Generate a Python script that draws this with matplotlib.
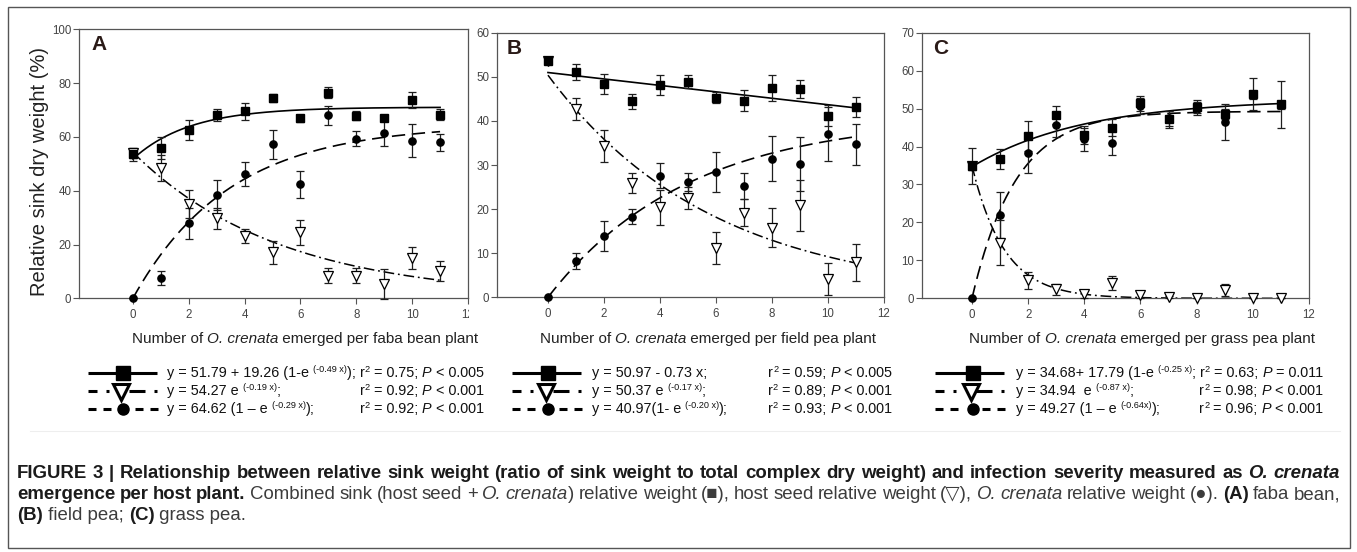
import numpy as np
import matplotlib
matplotlib.use('Agg')
import matplotlib.pyplot as plt
from matplotlib.patches import Rectangle

W, H = 1357, 552
plt.rcParams['font.family'] = ['Liberation Sans', 'DejaVu Sans']

# ---------------- data ----------------
x_emerged = list(range(12))

# Panel A - faba bean
a_sink = [53.5, 56.0, 62.6, 68.2, 69.5, 74.5, 66.9, 76.5, 67.9, 67.0, 73.6, 68.2]
a_sink_err = [2.4, 4.1, 3.7, 2.2, 3.2, 1.5, 1.4, 2.2, 1.8, 1.0, 3.0, 2.1]
a_seed = [54.0, 48.3, 35.1, 29.7, 23.2, 17.1, 24.5, 8.4, 8.4, 5.3, 14.9, 10.3]
a_seed_err = [2.0, 4.8, 5.2, 4.0, 2.5, 4.2, 4.5, 2.8, 2.8, 5.5, 4.0, 3.7]
a_oc = [0.0, 7.4, 27.9, 38.4, 46.2, 57.2, 42.4, 68.0, 59.4, 61.6, 58.6, 58.0]
a_oc_err = [0.0, 2.6, 5.7, 5.6, 4.4, 5.4, 5.0, 3.6, 2.9, 5.1, 6.1, 3.2]

# Panel B - field pea
b_sink = [53.6, 51.0, 48.4, 44.4, 48.1, 48.9, 45.3, 44.6, 47.5, 47.2, 41.2, 43.2]
b_sink_err = [0.7, 1.8, 2.3, 1.6, 2.3, 1.5, 1.2, 2.3, 3.0, 2.1, 2.3, 2.3]
b_seed = [53.6, 42.7, 34.3, 25.9, 20.4, 22.6, 11.1, 19.2, 15.8, 20.9, 4.2, 7.9]
b_seed_err = [0.5, 2.5, 3.6, 2.2, 3.9, 2.5, 3.6, 3.1, 4.5, 5.8, 3.6, 4.1]
b_oc = [0.0, 8.2, 14.0, 18.3, 27.6, 26.2, 28.4, 25.3, 31.4, 30.2, 37.0, 34.7]
b_oc_err = [0.0, 1.8, 3.4, 1.7, 2.8, 2.0, 4.6, 2.9, 5.1, 6.2, 6.2, 4.6]

# Panel C - grass pea
c_sink = [34.9, 36.7, 42.8, 48.3, 43.0, 45.0, 51.4, 47.2, 50.3, 48.6, 53.8, 51.1]
c_sink_err = [4.7, 2.7, 4.0, 2.4, 2.3, 2.2, 2.0, 2.2, 1.9, 1.4, 4.2, 6.1]
c_seed = [34.9, 14.7, 4.7, 2.4, 1.1, 4.0, 0.9, 0.4, 0.0, 2.2, 0.0, 0.0]
c_seed_err = [1.0, 6.0, 2.2, 1.5, 1.0, 1.9, 0.7, 0.3, 0.0, 1.5, 0.0, 0.0]
c_oc = [0.0, 21.9, 38.2, 45.8, 41.9, 41.0, 50.7, 47.4, 50.3, 46.4, 53.5, 51.0]
c_oc_err = [0.0, 6.0, 5.1, 3.2, 3.1, 3.2, 2.2, 2.0, 1.5, 4.7, 1.0, 1.0]

# fitted equations (parameters as printed in the legends)
a_fit_sink = [51.79, 19.26, 0.49]   # a + b(1-e^(-kx))
a_fit_seed = [54.27, 0.19]          # a e^(-kx)
a_fit_oc = [64.62, 0.29]            # a (1-e^(-kx))
b_fit_sink = [50.97, -0.73]         # a + b x
b_fit_seed = [50.37, 0.17]
b_fit_oc = [40.97, 0.20]
c_fit_sink = [34.68, 17.79, 0.25]
c_fit_seed = [34.94, 0.87]
c_fit_oc = [49.27, 0.64]

host_names = ["faba bean", "field pea", "grass pea"]
panel_letters = ["A", "B", "C"]
y_label = "Relative sink dry weight (%)"
x_ticks = [0, 2, 4, 6, 8, 10, 12]

# ---------------- figure ----------------
fig = plt.figure(figsize=(W / 100, H / 100), dpi=100)
fig.patch.set_facecolor('white')

def add_ax(l, r, t, b):
    return fig.add_axes([l / W, 1 - b / H, (r - l) / W, (b - t) / H])

overlay = fig.add_axes([0, 0, 1, 1], zorder=5)
overlay.set_xlim(0, W)
overlay.set_ylim(H, 0)
overlay.axis('off')
overlay.patch.set_alpha(0)

renderer = fig.canvas.get_renderer()

def textwidth(s, **kw):
    t1 = overlay.text(0, 0, s + '|', **kw)
    t2 = overlay.text(0, 0, '|', **kw)
    w = t1.get_window_extent(renderer).width - t2.get_window_extent(renderer).width
    t1.remove(); t2.remove()
    return w

def runs_width(runs):
    return sum(textwidth(s, **{k: v for k, v in kw.items() if k != 'dy'}) for s, kw in runs)

def draw_runs(x, y, runs):
    for s, kw in runs:
        kw = dict(kw)
        dy = kw.pop('dy', 0)
        overlay.text(x, y + dy, s, ha='left', va='baseline', **kw)
        x += textwidth(s, **kw)
    return x

panels = [
    dict(pos=(79, 468, 29.3, 298.3), xlim=(-1.93, 12), ylim=(0, 100), yt=np.arange(0, 101, 20),
         sink=a_sink, sink_err=a_sink_err, seed=a_seed, seed_err=a_seed_err, oc=a_oc, oc_err=a_oc_err,
         fsink=('exp', a_fit_sink), fseed=a_fit_seed, foc=a_fit_oc, letter=(91, 50), xlab_c=305),
    dict(pos=(497, 884, 32.7, 297.3), xlim=(-1.82, 12), ylim=(0, 60), yt=np.arange(0, 61, 10),
         sink=b_sink, sink_err=b_sink_err, seed=b_seed, seed_err=b_seed_err, oc=b_oc, oc_err=b_oc_err,
         fsink=('lin', b_fit_sink), fseed=b_fit_seed, foc=b_fit_oc, letter=(507, 54), xlab_c=708),
    dict(pos=(922, 1309, 32.7, 298.3), xlim=(-1.78, 12), ylim=(0, 70), yt=np.arange(0, 71, 10),
         sink=c_sink, sink_err=c_sink_err, seed=c_seed, seed_err=c_seed_err, oc=c_oc, oc_err=c_oc_err,
         fsink=('exp', c_fit_sink), fseed=c_fit_seed, foc=c_fit_oc, letter=(933, 54), xlab_c=1142),
]

xf = np.linspace(0, 11, 200)
ecol = '#1e1e1e'
axes = []
for i, p in enumerate(panels):
    ax = add_ax(*p['pos'])
    axes.append(ax)
    ax.set_xlim(*p['xlim'])
    ax.set_ylim(*p['ylim'])
    ax.set_xticks(x_ticks)
    ax.set_yticks(p['yt'])
    ax.tick_params(direction='out', length=4, width=0.8, color='#555555',
                   labelsize=8.3, labelcolor='#444444')
    ax.tick_params(axis='x', pad=4)
    ax.tick_params(axis='y', pad=1.5)
    for sp in ax.spines.values():
        sp.set_color('#555555')
        sp.set_linewidth(0.9)
    # fitted curves
    kind, fp = p['fsink']
    if kind == 'exp':
        ys = fp[0] + fp[1] * (1 - np.exp(-fp[2] * xf))
    else:
        ys = fp[0] + fp[1] * xf
    ax.plot(xf, ys, color='black', lw=1.2, zorder=2)
    ax.plot(xf, p['fseed'][0] * np.exp(-p['fseed'][1] * xf), color='black', lw=1.1,
            dashes=(7, 2.5, 1.2, 2.5), zorder=2)
    ax.plot(xf, p['foc'][0] * (1 - np.exp(-p['foc'][1] * xf)), color='black', lw=1.2,
            dashes=(8, 4), zorder=2)
    # error bars
    for vals, errs in [(p['seed'], p['seed_err']), (p['oc'], p['oc_err']), (p['sink'], p['sink_err'])]:
        ax.errorbar(x_emerged, vals, yerr=errs, fmt='none', ecolor=ecol, elinewidth=0.9,
                    capsize=3.2, capthick=0.9, zorder=3, clip_on=False)
    ax.plot(x_emerged, p['seed'], 'v', ms=6.5, mfc='white', mec='black', mew=0.9, zorder=4, clip_on=False)
    ax.plot(x_emerged, p['oc'], 'o', ms=5.2, color='black', zorder=5, clip_on=False)
    ax.plot(x_emerged, p['sink'], 's', ms=6, color='black', zorder=6, clip_on=False)
    # panel letter
    overlay.text(p['letter'][0], p['letter'][1], panel_letters[i], fontsize=15, fontweight='bold',
                 color='#2a1a17', ha='left', va='baseline')

# y label (only on panel A)
overlay.text(40, 171, y_label, fontsize=14.5, color='#222222', rotation=90,
             ha='center', va='center', rotation_mode='anchor')

# the "12" of panel A is cut off in the original figure (only "1" visible)
overlay.add_patch(Rectangle((468.6, 305), 10, 16, facecolor='white', edgecolor='none', zorder=10))

# x labels (with italic species name)
xl_size = 11
for i, p in enumerate(panels):
    runs = [("Number of ", dict(fontsize=xl_size, color='#222222')),
            ("O. crenata", dict(fontsize=xl_size, color='#222222', fontstyle='italic')),
            (" emerged per " + host_names[i] + " plant", dict(fontsize=xl_size, color='#222222'))]
    w = runs_width(runs)
    draw_runs(p['xlab_c'] - w / 2, 343, runs)

# ---------------- legends ----------------
N = dict(fontsize=10.4, color='#111111')
SUP = dict(fontsize=6.6, color='#111111', dy=-5)
IT = dict(fontsize=10.4, color='#111111', fontstyle='italic')

def r2runs(r2, pstr):
    return [("r", N), ("2", SUP), (" = %s; " % r2, N), ("P", IT), (" " + pstr, N)]

legend_sets = [
    dict(x0=88, xm=123, xt=167, right=None, rows=[
        ([("y = 51.79 + 19.26 (1-e ", N), ("(-0.49 x)", SUP), ("); ", N)] + r2runs("0.75", "< 0.005"), None),
        ([("y = 54.27 e ", N), ("(-0.19 x)", SUP), (";", N)], r2runs("0.92", "< 0.001")),
        ([("y = 64.62 (1 – e ", N), ("(-0.29 x)", SUP), (");", N)], r2runs("0.92", "< 0.001")),
    ]),
    dict(x0=512, xm=548, xt=592, right=892, rows=[
        ([("y = 50.97 - 0.73 x;", N)], r2runs("0.59", "< 0.005")),
        ([("y = 50.37 e ", N), ("(-0.17 x)", SUP), (";", N)], r2runs("0.89", "< 0.001")),
        ([("y = 40.97(1- e ", N), ("(-0.20 x)", SUP), (");", N)], r2runs("0.93", "< 0.001")),
    ]),
    dict(x0=935, xm=973, xt=1016, right=None, rows=[
        ([("y = 34.68+ 17.79 (1-e ", N), ("(-0.25 x)", SUP), ("; ", N)] + r2runs("0.63", "= 0.011"), None),
        ([("y = 34.94  e ", N), ("(-0.87 x)", SUP), (";", N)], r2runs("0.98", "< 0.001")),
        ([("y = 49.27 (1 – e ", N), ("(-0.64x)", SUP), (");", N)], r2runs("0.96", "< 0.001")),
    ]),
]
row_y = [373, 391, 409]
for L in legend_sets:
    x0, xm = L['x0'], L['xm']
    overlay.plot([x0, x0 + 69], [row_y[0]] * 2, color='black', lw=2.2, solid_capstyle='butt')
    overlay.plot([xm], [row_y[0]], 's', ms=9.5, color='black')
    for a, b in [(0, 9), (18, 21), (41, 57), (66, 69)]:
        overlay.plot([x0 + a, x0 + b], [row_y[1]] * 2, color='black', lw=2.2, solid_capstyle='butt')
    overlay.plot([xm - 2], [row_y[1] + 1], 'v', ms=12, mfc='white', mec='black', mew=2.2)
    for a, b in [(0, 8), (15, 23), (47, 55), (62, 70)]:
        overlay.plot([x0 + a, x0 + b], [row_y[2]] * 2, color='black', lw=2.2, solid_capstyle='butt')
    overlay.plot([xm], [row_y[2]], 'o', ms=8, color='black')
    right = L['right']
    for j, (left_runs, right_runs) in enumerate(L['rows']):
        yb = row_y[j] + 4
        end = draw_runs(L['xt'], yb, left_runs)
        if right_runs is None:
            right = end if right is None else right
        else:
            w = runs_width(right_runs)
            draw_runs(right - w, yb, right_runs)

overlay.plot([30, 1340], [431, 431], color='#eeeeee', lw=0.8)

# ---------------- caption ----------------
cap_fam = ['Liberation Sans Narrow', 'Liberation Sans', 'DejaVu Sans']
cap_bold = '#1b1b1b'
cap_norm = '#3c3c3c'
def B(s): return (s, dict(color=cap_bold, fontweight='bold', family=cap_fam))
def BI(s): return (s, dict(color=cap_bold, fontweight='bold', fontstyle='italic', family=cap_fam))
def R(s): return (s, dict(color=cap_norm, family=cap_fam))
def I(s): return (s, dict(color=cap_norm, fontstyle='italic', family=cap_fam))

cap_lines = [
    [B("FIGURE 3 | Relationship between relative sink weight (ratio of sink weight to total complex dry weight) and infection severity measured as "), BI("O. crenata")],
    [B("emergence per host plant."), R(" Combined sink (host seed + "), I("O. crenata"), R(") relative weight (■), host seed relative weight (▽), "),
     I("O. crenata"), R(" relative weight (●). "), B("(A)"), R(" faba bean,")],
    [B("(B)"), R(" field pea; "), B("(C)"), R(" grass pea.")],
]
cap_left, cap_right = 17, 1340

def with_size(runs, size):
    return [(s, dict(kw, fontsize=size)) for s, kw in runs]

w10 = runs_width(with_size(cap_lines[0], 10))
cap_size = min(14.5, 10 * (cap_right - cap_left) / w10 * 0.998)

cap_y = [478, 499, 520]
for j, line in enumerate(cap_lines):
    runs = with_size(line, cap_size)
    if j < 2:
        tokens = []
        for s, kw in runs:
            parts = s.split(' ')
            for k, part in enumerate(parts):
                if k > 0:
                    tokens.append((None, kw))
                if part:
                    tokens.append((part, kw))
        words, cur = [], []
        for t, kw in tokens:
            if t is None:
                if cur:
                    words.append(cur); cur = []
            else:
                cur.append((t, kw))
        if cur:
            words.append(cur)
        ww = [runs_width(wd) for wd in words]
        gap = (cap_right - cap_left - sum(ww)) / (len(words) - 1)
        x = cap_left
        for wd, wdw in zip(words, ww):
            draw_runs(x, cap_y[j], wd)
            x += wdw + gap
    else:
        draw_runs(cap_left, cap_y[j], runs)

# outer frame
overlay.add_patch(Rectangle((8, 7), 1342, 541, fill=False, edgecolor='#555555', lw=1.0))

fig.savefig('out.png', dpi=100, facecolor='white')
